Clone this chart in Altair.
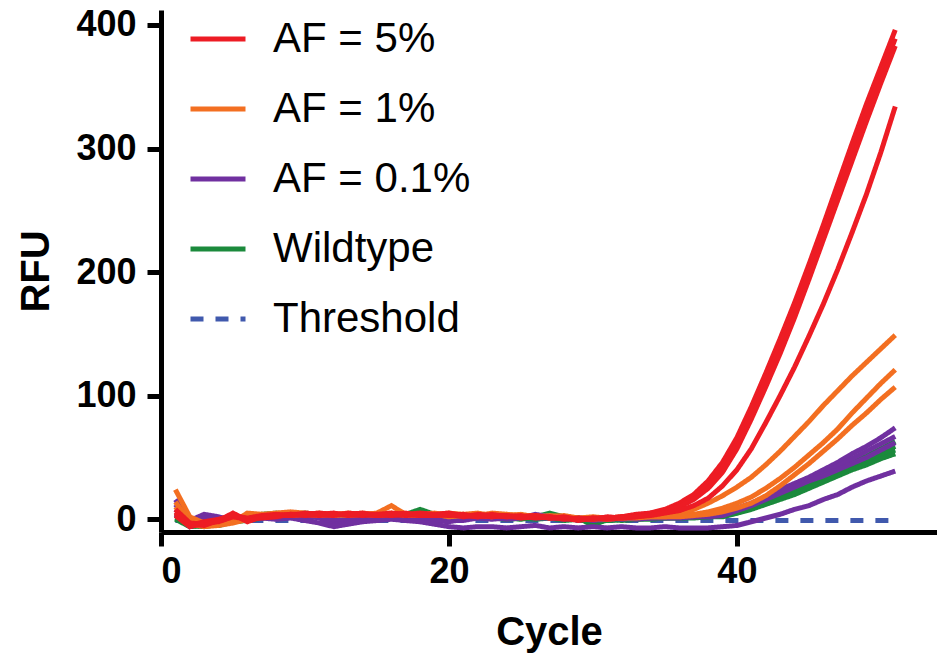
import altair as alt
import pandas as pd

CYCLES = list(range(1, 52))

AF5_RUNS = [
    [8, -3, -4, -1, 5, -1, 2, 3, 4, 4,
     5, 4, 4, 3, 4, 5, 4, 3, 4, 5,
     3, 3, 2, 3, 2, 3, 1, 1, 0, 1,
     1, 2, 4, 5, 8, 13, 20, 31, 46, 66,
     91, 118, 146, 175, 206, 238, 271, 304, 336, 366,
     396],
    [5, -5, -2, 0, 3, 1, 3, 4, 3, 5,
     4, 3, 5, 4, 3, 4, 3, 4, 3, 4,
     2, 4, 3, 2, 3, 1, 2, 0, 1, 0,
     1, 2, 3, 5, 7, 11, 18, 28, 42, 61,
     86, 112, 140, 169, 200, 232, 264, 297, 328, 359,
     389],
    [3, -6, -3, -2, 2, 0, 1, 2, 4, 3,
     4, 5, 3, 4, 4, 3, 4, 5, 4, 3,
     4, 2, 3, 3, 1, 2, 2, 1, -1, 1,
     0, 1, 2, 4, 6, 10, 16, 25, 38, 57,
     81, 107, 134, 163, 194, 226, 258, 290, 322, 353,
     383],
    [6, -4, -5, -1, 4, -2, 2, 3, 3, 4,
     3, 4, 4, 5, 3, 4, 5, 3, 3, 4,
     3, 2, 4, 2, 2, 3, 1, 2, 0, 0,
     2, 1, 2, 3, 5, 7, 11, 17, 27, 40,
     57, 78, 100, 123, 148, 174, 202, 232, 263, 297,
     334],
]

AF1_RUNS = [
    [24, 2, -3, -4, -2, 5, 4, 5, 6, 5,
     4, 4, 5, 4, 5, 11, 4, 3, 4, 5,
     4, 3, 5, 4, 3, 2, 3, 2, 1, 2,
     1, 2, 2, 3, 3, 4, 8, 13, 19, 26,
     34, 44, 55, 67, 79, 92, 104, 116, 127, 138,
     149],
    [14, -2, -5, -3, 0, 2, 4, 3, 5, 4,
     5, 3, 4, 5, 4, 5, 3, 4, 5, 3,
     4, 5, 3, 3, 4, 2, 2, 3, 1, 0,
     1, 1, 2, 2, 2, 3, 4, 6, 9, 13,
     18, 25, 33, 42, 52, 62, 73, 86, 98, 110,
     121],
    [10, -4, -6, -5, -3, 0, 2, 4, 3, 4,
     3, 4, 3, 4, 3, 4, 4, 3, 4, 2,
     3, 3, 2, 4, 2, 3, 1, 2, 0, 1,
     0, 1, 1, 2, 2, 2, 3, 4, 6, 9,
     13, 19, 27, 36, 45, 55, 65, 76, 86, 97,
     107],
]

AF01_RUNS = [
    [16, -1, 4, 2, -1, 3, 1, 2, 3, 4,
     2, -2, -1, 2, 3, 4, 2, 3, 1, 0,
     -1, 1, 2, 0, 1, 4, 2, 1, 0, 1,
     0, 1, 1, 2, 2, 2, 3, 4, 5, 9,
     13, 18, 24, 29, 34, 40, 46, 53, 59, 66,
     74],
    [12, -3, 2, 0, 1, 2, 3, 1, 2, 3,
     1, -5, -3, 0, 2, 3, 2, 1, -1, -2,
     0, 2, 1, 2, 3, 2, 1, 2, 1, 0,
     1, 0, 1, 1, 2, 2, 2, 3, 4, 8,
     12, 17, 22, 27, 32, 37, 43, 49, 55, 61,
     67],
    [8, -4, 1, 1, 0, 1, 2, 3, 2, 1,
     2, 0, 1, 2, 3, 2, 3, 2, 2, 1,
     2, 1, 0, 1, 2, 1, 1, 0, 1, -1,
     0, 1, 0, 1, 1, 1, 2, 2, 3, 7,
     11, 16, 21, 26, 31, 35, 40, 45, 50, 56,
     62],
    [4, -6, -3, -4, -2, 0, 1, 0, 1, -1,
     -3, -6, -4, -2, -1, 0, -1, -2, -4, -6,
     -7, -6, -6, -7, -6, -5, -7, -6, -7, -6,
     -7, -6, -7, -7, -6, -7, -7, -7, -6, -5,
     -2, 1, 4, 8, 11, 16, 20, 26, 31, 35,
     39],
]

WT_RUNS = [
    [5, -2, -4, -2, 1, 2, 4, 5, 4, 5,
     4, 3, 4, 3, 4, 3, 4, 8, 4, 3,
     2, 4, 3, 2, 3, 2, 5, 2, 1, -5,
     0, 1, 1, 2, 2, 2, 3, 3, 4, 7,
     11, 15, 20, 25, 30, 36, 41, 46, 51, 57,
     63],
    [3, -4, -5, -3, 0, 1, 3, 3, 5, 4,
     3, 4, 3, 2, 3, 4, 3, 2, 3, 4,
     3, 2, 1, 3, 2, 1, 2, 1, 0, 1,
     -1, 0, 1, 1, 1, 2, 2, 3, 3, 6,
     10, 14, 18, 23, 28, 34, 39, 44, 49, 54,
     59],
    [1, -5, -6, -4, -1, 0, 2, 3, 2, 3,
     4, 2, 3, 4, 2, 3, 2, 3, 2, 1,
     2, 3, 2, 1, 0, 2, 1, 0, 1, -4,
     0, -1, 0, 1, 1, 1, 2, 2, 3, 5,
     9, 13, 17, 22, 27, 32, 37, 42, 47, 52,
     56],
    [0, -6, -5, -5, -2, -1, 1, 2, 3, 2,
     3, 2, 1, 3, 2, 2, 3, 1, 2, 2,
     1, 2, 1, 0, 1, 0, 1, -1, 0, -2,
     -1, 0, 0, 0, 1, 1, 1, 2, 2, 5,
     8, 12, 16, 20, 25, 30, 35, 40, 44, 49,
     53],
]

THRESHOLD_CYCLES = [1, 51]
THRESHOLD_VALUES = [-1, -1]

GROUPS = ["AF = 5%", "AF = 1%", "AF = 0.1%", "Wildtype", "Threshold"]
COLORS = ["#ED1C24", "#F36F21", "#7030A0", "#1B8A3C", "#4059AD"]
DASHES = [[1, 0], [1, 0], [1, 0], [1, 0], [13, 12]]

X_TICKS = [0, 20, 40]
Y_TICKS = [0, 100, 200, 300, 400]

rows = []
for group, runs in [("AF = 5%", AF5_RUNS), ("AF = 1%", AF1_RUNS),
                    ("AF = 0.1%", AF01_RUNS), ("Wildtype", WT_RUNS)]:
    for i, run in enumerate(runs):
        for c, v in zip(CYCLES, run):
            rows.append({"cycle": c, "rfu": v, "group": group, "run": f"{group}-{i}"})
for c, v in zip(THRESHOLD_CYCLES, THRESHOLD_VALUES):
    rows.append({"cycle": c, "rfu": v, "group": "Threshold", "run": "Threshold"})
df = pd.DataFrame(rows)

FONT = "Liberation Sans"

legend = alt.Legend(
    title=None, orient="none", legendX=27, legendY=-1,
    symbolSize=3025, symbolStrokeWidth=5, symbolType="stroke",
    labelFont=FONT, labelFontSize=42, labelColor="black",
    labelOffset=25, rowPadding=19, padding=0, offset=0,
    labelLimit=400,
)

base = alt.Chart(df).mark_line(strokeWidth=5).encode(
    x=alt.X("cycle:Q",
            scale=alt.Scale(domain=[0, 53.9], nice=False, zero=False),
            axis=alt.Axis(values=X_TICKS, format="d", title="Cycle",
                          labelPadding=8, titleX=388, titleY=112,
                          titleAlign="center", titleBaseline="alphabetic")),
    y=alt.Y("rfu:Q",
            scale=alt.Scale(domain=[-10.3, 412.1], nice=False, zero=False),
            axis=alt.Axis(values=Y_TICKS, format="d", title="RFU",
                          labelPadding=11, titleX=-125, titleY=261,
                          titleAlign="center", titleBaseline="middle")),
    color=alt.Color("group:N", scale=alt.Scale(domain=GROUPS, range=COLORS), legend=legend),
    strokeDash=alt.StrokeDash("group:N", scale=alt.Scale(domain=GROUPS, range=DASHES), legend=legend),
    detail="run:N",
)

order = ["Threshold", "Wildtype", "AF = 0.1%", "AF = 1%", "AF = 5%"]
layers = [base.transform_filter(alt.datum.group == g) for g in order]

chart = alt.layer(*layers).properties(
    width=776, height=522,
    padding={"left": 153, "top": 2, "right": 0, "bottom": 123},
    autosize=alt.AutoSizeParams(type="none"),
).configure_view(stroke=None).configure_axis(
    grid=False,
    domainColor="black", domainWidth=5,
    tickColor="black", tickWidth=5, tickSize=14,
    labelFont=FONT, labelFontSize=36, labelFontWeight="bold", labelColor="black",
    titleFont=FONT, titleFontSize=40, titleFontWeight="bold", titleColor="black",
)

chart.save("out.html", embed_options={"renderer": "svg", "actions": False})
